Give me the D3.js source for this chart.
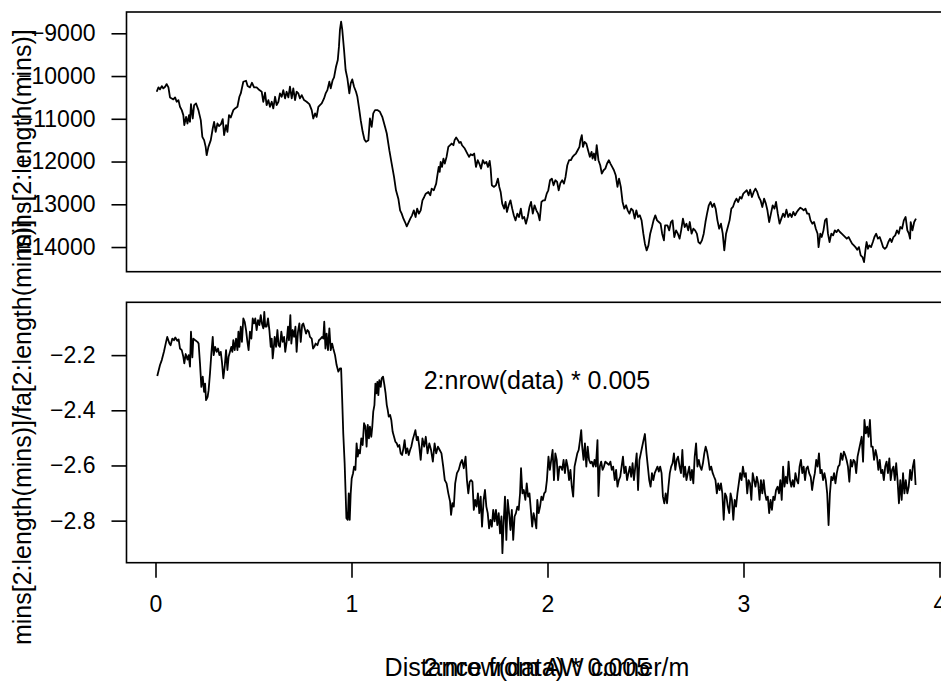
<!DOCTYPE html>
<html><head><meta charset="utf-8">
<script src="https://cdn.jsdelivr.net/npm/d3@7"></script>
<style>body{margin:0;background:#fff} svg{display:block}</style>
</head><body><svg id="chart" width="941" height="684"></svg>
<script>
const xTicks=[0,1,2,3,4];
const topTicks=[-9000,-10000,-11000,-12000,-13000,-14000];
const botTicks=[-2.2,-2.4,-2.6,-2.8];
const xLabel="Distance from AW corner/m";
const xExpr="2:nrow(data) * 0.005";
const topYLabel="mins[2:length(mins)]";
const botYLabel="mins[2:length(mins)]/fa[2:length(mins)]";

const topSeries=[[0.006,-10368],[0.015,-10266],[0.023,-10313],[0.032,-10235],[0.040,-10289],[0.049,-10250],[0.057,-10188],[0.066,-10266],[0.074,-10500],[0.083,-10524],[0.091,-10547],[0.100,-10500],[0.108,-10602],[0.117,-10563],[0.125,-10719],[0.134,-10797],[0.142,-10914],[0.147,-11149],[0.156,-10954],[0.163,-11110],[0.171,-10914],[0.176,-11071],[0.181,-10657],[0.190,-10993],[0.197,-10680],[0.207,-10641],[0.219,-10797],[0.231,-11032],[0.239,-11422],[0.248,-11500],[0.256,-11657],[0.261,-11852],[0.270,-11657],[0.282,-11500],[0.292,-11227],[0.299,-11071],[0.307,-11305],[0.316,-11110],[0.324,-11172],[0.334,-11125],[0.343,-11008],[0.350,-11383],[0.360,-11149],[0.367,-11305],[0.375,-10914],[0.384,-10969],[0.397,-10797],[0.406,-10758],[0.418,-10719],[0.428,-10485],[0.435,-10407],[0.448,-10133],[0.462,-10110],[0.470,-10235],[0.482,-10266],[0.492,-10157],[0.503,-10266],[0.516,-10266],[0.530,-10329],[0.542,-10368],[0.550,-10602],[0.559,-10391],[0.567,-10680],[0.576,-10563],[0.584,-10719],[0.593,-10602],[0.601,-10758],[0.610,-10485],[0.618,-10680],[0.627,-10602],[0.635,-10407],[0.644,-10485],[0.652,-10329],[0.661,-10524],[0.669,-10368],[0.678,-10500],[0.686,-10250],[0.695,-10524],[0.703,-10289],[0.712,-10563],[0.720,-10368],[0.729,-10407],[0.737,-10524],[0.746,-10446],[0.758,-10563],[0.771,-10602],[0.785,-10657],[0.797,-10797],[0.805,-10993],[0.814,-10875],[0.822,-10954],[0.831,-10719],[0.839,-10680],[0.848,-10641],[0.860,-10524],[0.868,-10407],[0.877,-10329],[0.887,-10133],[0.894,-10289],[0.904,-10094],[0.911,-10032],[0.921,-9782],[0.930,-9625],[0.936,-9313],[0.941,-8922],[0.947,-8727],[0.953,-8922],[0.962,-9391],[0.970,-9860],[0.979,-10055],[0.989,-10407],[0.996,-10172],[1.004,-10079],[1.013,-10250],[1.023,-10368],[1.030,-10485],[1.040,-10797],[1.047,-11032],[1.057,-11305],[1.066,-11485],[1.074,-11540],[1.086,-11500],[1.094,-10993],[1.103,-11188],[1.111,-10875],[1.120,-10797],[1.132,-10797],[1.145,-10836],[1.157,-10954],[1.171,-11188],[1.180,-11344],[1.193,-11735],[1.205,-12047],[1.217,-12360],[1.227,-12672],[1.239,-12868],[1.248,-13141],[1.256,-13219],[1.265,-13337],[1.273,-13415],[1.282,-13516],[1.300,-13336],[1.309,-13258],[1.318,-13141],[1.327,-13297],[1.335,-13102],[1.344,-13219],[1.353,-13141],[1.362,-12907],[1.371,-12829],[1.379,-12751],[1.392,-12711],[1.402,-12790],[1.409,-12633],[1.420,-12672],[1.432,-12516],[1.437,-12360],[1.445,-12126],[1.450,-12243],[1.455,-12008],[1.462,-12126],[1.469,-11930],[1.476,-12047],[1.485,-11891],[1.494,-11657],[1.503,-11618],[1.511,-11579],[1.520,-11618],[1.526,-11500],[1.534,-11438],[1.543,-11500],[1.550,-11563],[1.557,-11540],[1.564,-11618],[1.578,-11696],[1.591,-11813],[1.600,-11891],[1.608,-11829],[1.617,-11852],[1.626,-11813],[1.635,-12126],[1.644,-11969],[1.652,-12047],[1.661,-12165],[1.670,-11969],[1.679,-12047],[1.688,-12008],[1.696,-12126],[1.705,-11985],[1.710,-12165],[1.716,-12555],[1.726,-12594],[1.737,-12555],[1.747,-12399],[1.754,-12594],[1.761,-12711],[1.769,-12985],[1.779,-13102],[1.786,-12946],[1.793,-13180],[1.802,-13024],[1.811,-12907],[1.820,-13102],[1.828,-13258],[1.837,-13376],[1.846,-13219],[1.855,-13297],[1.864,-13102],[1.872,-13336],[1.881,-13297],[1.890,-13454],[1.899,-13297],[1.908,-13063],[1.916,-12946],[1.925,-13219],[1.934,-13024],[1.943,-13141],[1.952,-13219],[1.960,-13376],[1.969,-12946],[1.978,-12907],[1.987,-12907],[1.996,-12751],[2.004,-12672],[2.013,-12438],[2.022,-12399],[2.031,-12555],[2.040,-12438],[2.049,-12477],[2.057,-12672],[2.066,-12500],[2.075,-12438],[2.084,-12516],[2.092,-12360],[2.101,-12087],[2.110,-11969],[2.119,-11969],[2.128,-11891],[2.136,-11852],[2.145,-11813],[2.154,-11735],[2.163,-11657],[2.168,-11500],[2.175,-11383],[2.181,-11657],[2.189,-11540],[2.198,-11579],[2.207,-11735],[2.216,-11891],[2.225,-11774],[2.230,-11930],[2.237,-11813],[2.244,-11969],[2.251,-11618],[2.260,-11969],[2.269,-12087],[2.277,-12282],[2.286,-12204],[2.295,-12165],[2.304,-12047],[2.313,-11969],[2.321,-12047],[2.330,-12126],[2.339,-12204],[2.348,-12321],[2.357,-12594],[2.365,-12399],[2.374,-12594],[2.383,-12946],[2.392,-13102],[2.401,-13024],[2.409,-13141],[2.418,-13219],[2.427,-13102],[2.436,-13141],[2.445,-13336],[2.453,-13141],[2.462,-13297],[2.471,-13258],[2.480,-13376],[2.489,-13688],[2.497,-13922],[2.506,-14079],[2.515,-13961],[2.524,-13688],[2.533,-13532],[2.541,-13376],[2.550,-13258],[2.559,-13376],[2.568,-13415],[2.577,-13454],[2.585,-13688],[2.594,-13844],[2.600,-13493],[2.612,-13493],[2.621,-13610],[2.630,-13415],[2.638,-13376],[2.647,-13766],[2.656,-13610],[2.665,-13688],[2.674,-13805],[2.682,-13610],[2.691,-13336],[2.700,-13532],[2.709,-13454],[2.718,-13610],[2.726,-13415],[2.735,-13688],[2.744,-13571],[2.753,-13610],[2.762,-13688],[2.770,-13883],[2.779,-13922],[2.788,-13844],[2.797,-13688],[2.806,-13415],[2.814,-13219],[2.823,-13024],[2.832,-12946],[2.841,-13063],[2.850,-12985],[2.858,-13102],[2.867,-13376],[2.876,-13571],[2.885,-13454],[2.894,-13688],[2.902,-14079],[2.911,-13688],[2.920,-13532],[2.929,-13376],[2.938,-13102],[2.946,-13063],[2.955,-12946],[2.964,-12868],[2.973,-12946],[2.982,-12829],[2.990,-12868],[2.999,-12751],[3.008,-12711],[3.017,-12672],[3.026,-12790],[3.034,-12657],[3.043,-12829],[3.052,-12711],[3.061,-12633],[3.070,-12711],[3.078,-12829],[3.087,-12907],[3.096,-13063],[3.105,-12868],[3.114,-12985],[3.122,-13141],[3.131,-13415],[3.140,-13219],[3.149,-13024],[3.158,-13102],[3.166,-12946],[3.175,-13219],[3.184,-13454],[3.193,-13336],[3.202,-13219],[3.210,-13297],[3.219,-13125],[3.228,-13297],[3.237,-13219],[3.246,-13297],[3.254,-13180],[3.263,-13258],[3.272,-13180],[3.281,-13125],[3.290,-13079],[3.298,-13102],[3.307,-13141],[3.316,-13102],[3.325,-13219],[3.334,-13219],[3.342,-13376],[3.351,-13454],[3.360,-13415],[3.369,-13571],[3.378,-13688],[3.383,-14001],[3.392,-13688],[3.399,-13766],[3.408,-13610],[3.416,-13376],[3.424,-13336],[3.431,-13688],[3.439,-13883],[3.448,-13688],[3.457,-13727],[3.466,-13610],[3.475,-13649],[3.483,-13594],[3.492,-13649],[3.501,-13688],[3.510,-13727],[3.519,-13766],[3.527,-13805],[3.536,-13766],[3.545,-13844],[3.554,-13922],[3.563,-13961],[3.571,-14001],[3.580,-14063],[3.589,-14001],[3.598,-14196],[3.607,-14235],[3.615,-14352],[3.624,-14001],[3.628,-13883],[3.635,-14040],[3.642,-13961],[3.651,-14001],[3.660,-13883],[3.668,-13766],[3.677,-13688],[3.686,-13805],[3.695,-13766],[3.704,-13883],[3.712,-14001],[3.721,-14040],[3.730,-14001],[3.739,-13883],[3.748,-13805],[3.756,-13883],[3.765,-13766],[3.774,-13727],[3.783,-13610],[3.792,-13688],[3.800,-13532],[3.809,-13571],[3.818,-13376],[3.827,-13297],[3.836,-13610],[3.844,-13688],[3.850,-13805],[3.853,-13415],[3.862,-13610],[3.871,-13415],[3.880,-13336]];

const botSeries=[[0.009,-2.276],[0.023,-2.236],[0.032,-2.218],[0.043,-2.188],[0.054,-2.152],[0.060,-2.134],[0.071,-2.158],[0.077,-2.164],[0.086,-2.140],[0.094,-2.146],[0.101,-2.136],[0.111,-2.148],[0.118,-2.143],[0.125,-2.176],[0.134,-2.182],[0.142,-2.206],[0.147,-2.230],[0.154,-2.196],[0.163,-2.216],[0.169,-2.200],[0.176,-2.242],[0.181,-2.115],[0.188,-2.208],[0.193,-2.140],[0.203,-2.146],[0.214,-2.152],[0.220,-2.158],[0.227,-2.230],[0.234,-2.315],[0.241,-2.278],[0.248,-2.333],[0.253,-2.303],[0.258,-2.363],[0.266,-2.351],[0.271,-2.327],[0.278,-2.266],[0.285,-2.194],[0.292,-2.134],[0.297,-2.200],[0.304,-2.170],[0.312,-2.188],[0.319,-2.176],[0.326,-2.200],[0.333,-2.188],[0.339,-2.224],[0.346,-2.284],[0.353,-2.242],[0.360,-2.182],[0.367,-2.254],[0.373,-2.206],[0.380,-2.188],[0.387,-2.170],[0.392,-2.188],[0.397,-2.146],[0.404,-2.182],[0.411,-2.140],[0.418,-2.182],[0.423,-2.115],[0.428,-2.170],[0.435,-2.097],[0.441,-2.152],[0.448,-2.067],[0.455,-2.079],[0.462,-2.109],[0.469,-2.152],[0.475,-2.182],[0.482,-2.115],[0.489,-2.140],[0.496,-2.067],[0.503,-2.085],[0.509,-2.067],[0.516,-2.109],[0.523,-2.073],[0.530,-2.091],[0.537,-2.055],[0.543,-2.085],[0.550,-2.103],[0.555,-2.043],[0.560,-2.097],[0.567,-2.097],[0.574,-2.067],[0.581,-2.109],[0.588,-2.170],[0.593,-2.140],[0.598,-2.212],[0.603,-2.176],[0.608,-2.134],[0.615,-2.170],[0.622,-2.109],[0.628,-2.164],[0.635,-2.170],[0.642,-2.115],[0.649,-2.152],[0.656,-2.134],[0.662,-2.188],[0.669,-2.152],[0.676,-2.097],[0.681,-2.146],[0.688,-2.055],[0.693,-2.158],[0.700,-2.109],[0.707,-2.134],[0.714,-2.097],[0.720,-2.188],[0.727,-2.115],[0.734,-2.085],[0.741,-2.152],[0.748,-2.091],[0.754,-2.085],[0.761,-2.103],[0.768,-2.122],[0.775,-2.109],[0.782,-2.115],[0.788,-2.134],[0.797,-2.140],[0.804,-2.176],[0.810,-2.170],[0.817,-2.158],[0.826,-2.164],[0.834,-2.146],[0.843,-2.140],[0.850,-2.134],[0.856,-2.140],[0.861,-2.079],[0.867,-2.176],[0.873,-2.122],[0.880,-2.182],[0.887,-2.103],[0.894,-2.182],[0.901,-2.158],[0.907,-2.176],[0.916,-2.200],[0.924,-2.236],[0.933,-2.260],[0.941,-2.248],[0.947,-2.248],[0.952,-2.351],[0.958,-2.484],[0.965,-2.592],[0.970,-2.701],[0.974,-2.791],[0.981,-2.797],[0.986,-2.701],[0.991,-2.797],[0.996,-2.701],[1.001,-2.647],[1.008,-2.628],[1.013,-2.604],[1.020,-2.616],[1.026,-2.520],[1.032,-2.568],[1.037,-2.544],[1.043,-2.556],[1.050,-2.502],[1.057,-2.526],[1.064,-2.447],[1.071,-2.459],[1.077,-2.532],[1.083,-2.453],[1.089,-2.502],[1.094,-2.459],[1.101,-2.496],[1.106,-2.459],[1.111,-2.405],[1.117,-2.381],[1.122,-2.303],[1.127,-2.339],[1.132,-2.297],[1.137,-2.345],[1.142,-2.291],[1.149,-2.315],[1.154,-2.284],[1.161,-2.278],[1.168,-2.309],[1.174,-2.339],[1.180,-2.381],[1.185,-2.399],[1.190,-2.423],[1.197,-2.417],[1.203,-2.435],[1.210,-2.478],[1.217,-2.496],[1.224,-2.514],[1.231,-2.520],[1.237,-2.532],[1.244,-2.526],[1.251,-2.556],[1.258,-2.562],[1.265,-2.538],[1.271,-2.508],[1.278,-2.556],[1.285,-2.538],[1.292,-2.562],[1.299,-2.544],[1.305,-2.532],[1.312,-2.508],[1.319,-2.490],[1.326,-2.472],[1.333,-2.508],[1.339,-2.496],[1.346,-2.532],[1.353,-2.580],[1.362,-2.502],[1.371,-2.532],[1.379,-2.496],[1.388,-2.556],[1.397,-2.520],[1.406,-2.544],[1.415,-2.586],[1.424,-2.520],[1.432,-2.556],[1.441,-2.532],[1.450,-2.544],[1.459,-2.556],[1.468,-2.604],[1.476,-2.653],[1.485,-2.665],[1.494,-2.701],[1.503,-2.731],[1.508,-2.779],[1.515,-2.737],[1.522,-2.749],[1.529,-2.665],[1.538,-2.628],[1.547,-2.616],[1.556,-2.592],[1.564,-2.580],[1.573,-2.610],[1.582,-2.568],[1.589,-2.653],[1.596,-2.701],[1.603,-2.659],[1.610,-2.653],[1.617,-2.659],[1.624,-2.761],[1.631,-2.725],[1.638,-2.749],[1.645,-2.701],[1.652,-2.773],[1.659,-2.713],[1.666,-2.822],[1.674,-2.725],[1.681,-2.689],[1.688,-2.749],[1.695,-2.773],[1.702,-2.828],[1.709,-2.797],[1.716,-2.822],[1.723,-2.761],[1.730,-2.803],[1.737,-2.761],[1.744,-2.816],[1.751,-2.773],[1.758,-2.846],[1.765,-2.785],[1.770,-2.918],[1.776,-2.810],[1.783,-2.713],[1.790,-2.870],[1.797,-2.725],[1.804,-2.773],[1.811,-2.834],[1.818,-2.761],[1.825,-2.870],[1.832,-2.785],[1.839,-2.773],[1.846,-2.749],[1.853,-2.761],[1.860,-2.701],[1.865,-2.610],[1.872,-2.701],[1.879,-2.689],[1.887,-2.725],[1.894,-2.665],[1.901,-2.713],[1.908,-2.701],[1.915,-2.761],[1.922,-2.822],[1.929,-2.773],[1.936,-2.797],[1.943,-2.828],[1.948,-2.725],[1.955,-2.773],[1.962,-2.749],[1.969,-2.713],[1.976,-2.725],[1.983,-2.701],[1.990,-2.695],[1.997,-2.653],[2.005,-2.568],[2.012,-2.616],[2.019,-2.580],[2.026,-2.544],[2.033,-2.653],[2.040,-2.556],[2.047,-2.580],[2.054,-2.653],[2.061,-2.604],[2.068,-2.604],[2.075,-2.616],[2.082,-2.580],[2.089,-2.628],[2.096,-2.580],[2.103,-2.604],[2.110,-2.653],[2.117,-2.616],[2.124,-2.677],[2.131,-2.713],[2.138,-2.604],[2.145,-2.580],[2.152,-2.556],[2.159,-2.544],[2.166,-2.508],[2.172,-2.472],[2.177,-2.532],[2.184,-2.580],[2.191,-2.520],[2.198,-2.604],[2.205,-2.532],[2.212,-2.580],[2.219,-2.592],[2.226,-2.586],[2.233,-2.604],[2.240,-2.580],[2.247,-2.604],[2.255,-2.508],[2.260,-2.711],[2.267,-2.604],[2.274,-2.586],[2.281,-2.616],[2.288,-2.604],[2.295,-2.586],[2.304,-2.592],[2.313,-2.598],[2.321,-2.586],[2.328,-2.616],[2.335,-2.604],[2.343,-2.653],[2.350,-2.616],[2.357,-2.677],[2.364,-2.653],[2.371,-2.641],[2.378,-2.604],[2.385,-2.568],[2.392,-2.628],[2.399,-2.604],[2.406,-2.653],[2.413,-2.628],[2.420,-2.604],[2.427,-2.641],[2.434,-2.592],[2.441,-2.653],[2.448,-2.604],[2.455,-2.556],[2.462,-2.689],[2.469,-2.580],[2.476,-2.556],[2.483,-2.532],[2.490,-2.508],[2.497,-2.486],[2.505,-2.556],[2.512,-2.604],[2.519,-2.653],[2.526,-2.677],[2.533,-2.628],[2.540,-2.653],[2.547,-2.628],[2.554,-2.616],[2.561,-2.604],[2.568,-2.622],[2.575,-2.604],[2.582,-2.628],[2.589,-2.713],[2.596,-2.737],[2.603,-2.701],[2.610,-2.737],[2.617,-2.677],[2.624,-2.628],[2.631,-2.604],[2.638,-2.592],[2.645,-2.556],[2.652,-2.616],[2.659,-2.580],[2.666,-2.568],[2.674,-2.604],[2.681,-2.628],[2.688,-2.544],[2.695,-2.641],[2.702,-2.604],[2.709,-2.653],[2.716,-2.628],[2.723,-2.604],[2.730,-2.653],[2.737,-2.616],[2.744,-2.665],[2.751,-2.568],[2.758,-2.520],[2.765,-2.604],[2.772,-2.580],[2.779,-2.604],[2.786,-2.616],[2.793,-2.592],[2.800,-2.556],[2.807,-2.532],[2.814,-2.550],[2.821,-2.580],[2.828,-2.616],[2.835,-2.604],[2.843,-2.628],[2.850,-2.641],[2.857,-2.653],[2.864,-2.701],[2.871,-2.665],[2.878,-2.689],[2.885,-2.665],[2.892,-2.701],[2.899,-2.797],[2.906,-2.701],[2.913,-2.713],[2.920,-2.749],[2.927,-2.773],[2.934,-2.701],[2.941,-2.725],[2.948,-2.797],[2.955,-2.725],[2.962,-2.749],[2.969,-2.701],[2.976,-2.665],[2.983,-2.628],[2.990,-2.653],[2.997,-2.604],[3.005,-2.641],[3.012,-2.628],[3.019,-2.701],[3.026,-2.653],[3.033,-2.665],[3.040,-2.725],[3.047,-2.628],[3.054,-2.653],[3.061,-2.677],[3.068,-2.641],[3.075,-2.665],[3.082,-2.725],[3.089,-2.653],[3.096,-2.701],[3.103,-2.653],[3.110,-2.701],[3.117,-2.725],[3.124,-2.713],[3.131,-2.773],[3.138,-2.725],[3.145,-2.761],[3.152,-2.713],[3.159,-2.725],[3.166,-2.689],[3.174,-2.677],[3.181,-2.701],[3.188,-2.653],[3.195,-2.725],[3.202,-2.604],[3.209,-2.677],[3.216,-2.641],[3.223,-2.665],[3.230,-2.586],[3.237,-2.653],[3.244,-2.677],[3.251,-2.653],[3.258,-2.677],[3.265,-2.628],[3.272,-2.653],[3.279,-2.665],[3.286,-2.604],[3.293,-2.580],[3.300,-2.628],[3.307,-2.604],[3.314,-2.653],[3.321,-2.610],[3.328,-2.604],[3.335,-2.628],[3.343,-2.641],[3.350,-2.689],[3.357,-2.653],[3.364,-2.628],[3.371,-2.580],[3.378,-2.604],[3.385,-2.556],[3.392,-2.628],[3.399,-2.616],[3.406,-2.653],[3.413,-2.628],[3.420,-2.653],[3.427,-2.701],[3.434,-2.816],[3.441,-2.701],[3.448,-2.641],[3.455,-2.653],[3.462,-2.628],[3.469,-2.665],[3.476,-2.628],[3.483,-2.604],[3.490,-2.598],[3.497,-2.556],[3.505,-2.580],[3.512,-2.550],[3.519,-2.562],[3.526,-2.580],[3.533,-2.604],[3.540,-2.659],[3.547,-2.580],[3.554,-2.604],[3.561,-2.580],[3.568,-2.586],[3.575,-2.628],[3.582,-2.568],[3.589,-2.544],[3.596,-2.520],[3.603,-2.496],[3.610,-2.586],[3.617,-2.435],[3.624,-2.484],[3.631,-2.459],[3.638,-2.496],[3.645,-2.435],[3.652,-2.532],[3.659,-2.532],[3.666,-2.580],[3.674,-2.544],[3.681,-2.568],[3.688,-2.616],[3.695,-2.580],[3.702,-2.628],[3.709,-2.616],[3.716,-2.653],[3.723,-2.604],[3.730,-2.586],[3.737,-2.628],[3.744,-2.574],[3.751,-2.653],[3.758,-2.616],[3.765,-2.604],[3.772,-2.653],[3.779,-2.592],[3.786,-2.653],[3.793,-2.737],[3.800,-2.653],[3.807,-2.725],[3.814,-2.628],[3.821,-2.701],[3.828,-2.653],[3.836,-2.701],[3.843,-2.677],[3.850,-2.616],[3.857,-2.653],[3.864,-2.604],[3.871,-2.580],[3.878,-2.671]];

const FONT='"Liberation Sans", Arial, Helvetica, sans-serif';
const FS_TICK=23, FS_LAB=25;
const svg=d3.select("#chart");
svg.append("rect").attr("width",941).attr("height",684).attr("fill","#fff");

const x=d3.scaleLinear().domain([0,4]).range([155.5,939.5]);
const xBox=[-0.148,4.04];
const yTop=d3.scaleLinear().domain([-8502,-14577]).range([12,271.7]);
const yBot=d3.scaleLinear().domain([-2.0085,-2.9525]).range([302.3,562.7]);

function panel(yScale, data, ticks, fmt){
  const g=svg.append("g");
  const x0=x(xBox[0]), x1=x(xBox[1]);
  const [yb,yt]=yScale.range().slice().sort((a,b)=>b-a);
  g.append("path").datum(data)
    .attr("fill","none").attr("stroke","#000").attr("stroke-width",1.8)
    .attr("stroke-linejoin","round")
    .attr("d",d3.line().x(d=>x(d[0])).y(d=>yScale(d[1])));
  g.append("rect").attr("x",x0).attr("y",yt).attr("width",x1-x0).attr("height",yb-yt)
    .attr("fill","none").attr("stroke","#000").attr("stroke-width",1.6);
  const ax=g.append("g").attr("transform",`translate(${x0},0)`)
    .call(d3.axisLeft(yScale).tickValues(ticks).tickFormat(fmt).tickSizeInner(15).tickSizeOuter(0).tickPadding(16));
  ax.select(".domain").remove();
  ax.selectAll("line").attr("stroke-width",1.6);
  ax.selectAll("text").attr("font-size",FS_TICK).attr("font-family",FONT).attr("fill","#000");
  return g;
}
panel(yTop, topSeries, topTicks, d3.format("d"));
panel(yBot, botSeries, botTicks, d3.format(".1f"));

const xa=svg.append("g").attr("transform",`translate(0,${yBot.range()[1]})`)
  .call(d3.axisBottom(x).tickValues(xTicks).tickFormat(d3.format("d")).tickSizeInner(15).tickSizeOuter(0).tickPadding(18));
xa.select(".domain").remove();
xa.selectAll("line").attr("stroke-width",1.6);
xa.selectAll("text").attr("font-size",FS_TICK).attr("font-family",FONT).attr("fill","#000");

const cx=(x(xBox[0])+x(xBox[1]))/2;
function label(txt,px,py,rot){
  svg.append("text").attr("transform",`translate(${px},${py})`+(rot?` rotate(${rot})`:""))
    .attr("text-anchor","middle").attr("font-size",FS_LAB).attr("font-family",FONT).attr("fill","#000").text(txt);
}
label(xExpr, cx, 389);
label(xLabel, cx, 676);
label(xExpr, cx, 676);
label(topYLabel, 31, (yTop.range()[0]+yTop.range()[1])/2, -90);
label(botYLabel, 31, (yBot.range()[0]+yBot.range()[1])/2, -90);
</script></body></html>
